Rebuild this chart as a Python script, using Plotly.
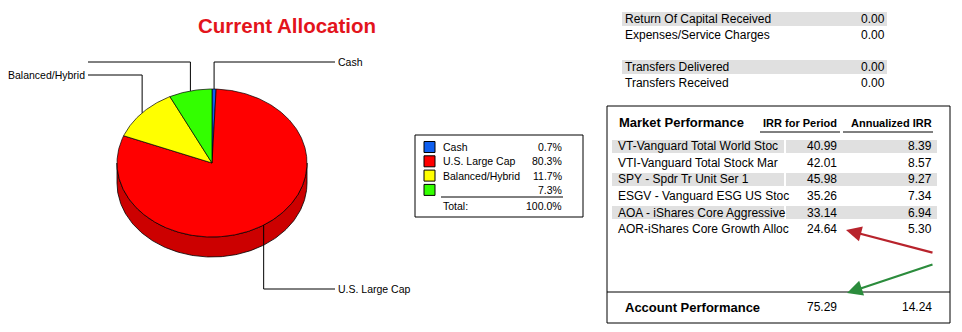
import numpy as np
import plotly.graph_objects as go

# ---------------- data ----------------
alloc_labels = ["Cash", "U.S. Large Cap", "Balanced/Hybrid", ""]
alloc_pct = [0.7, 80.3, 11.7, 7.3]
alloc_colors = ["#0F5FEF", "#FF0000", "#FFFF00", "#33FF00"]
alloc_side_colors = ["#0C4CBF", "#CC0000", "#CCCC00", "#29CC00"]

flow_labels = ["Return Of Capital Received", "Expenses/Service Charges", "",
               "Transfers Delivered", "Transfers Received"]
flow_values = [0.00, 0.00, None, 0.00, 0.00]
flow_shaded = [True, False, False, True, False]

perf_names = ["VT-Vanguard Total World Stoc", "VTI-Vanguard Total Stock Mar",
              "SPY - Spdr Tr Unit Ser 1", "ESGV - Vanguard ESG US Stoc",
              "AOA - iShares Core Aggressive", "AOR-iShares Core Growth Alloc"]
perf_irr = [40.99, 42.01, 45.98, 35.26, 33.14, 24.64]
perf_ann = [8.39, 8.57, 9.27, 7.34, 6.94, 5.30]
acct_label = "Account Performance"
acct_irr = 75.29
acct_ann = 14.24

# ---------------- layout constants ----------------
W, H = 962, 332
FONT = "Liberation Sans, Arial, sans-serif"
CX, CY, RX, RY, DEPTH = 212, 163, 95, 74, 20
LABEL_Y = [62, 289, 75, 62]          # leader label levels (px)
LEFT_END, RIGHT_END = 88, 335


def px(x):
    return x / W


def py(y):
    return 1 - y / H


fig = go.Figure()

# ---------------- 3D pie (ellipse via axis scaling) ----------------
cum = np.concatenate([[0], np.cumsum(alloc_pct)]) / 100.0 * 360.0
d = DEPTH / RY

# side walls (visible lower half: 90..270 deg clockwise from top)
for i in range(len(alloc_pct)):
    s0, s1 = max(cum[i], 90), min(cum[i + 1], 270)
    if s1 > s0:
        t = np.radians(np.linspace(s0, s1, int(s1 - s0) + 2))
        xs = np.concatenate([np.sin(t), np.sin(t)[::-1], [np.sin(t[0])]])
        ys = np.concatenate([np.cos(t), np.cos(t)[::-1] - d, [np.cos(t[0])]])
        fig.add_trace(go.Scatter(x=xs, y=ys, mode="lines", fill="toself",
                                 fillcolor=alloc_side_colors[i],
                                 line=dict(color="black", width=0.8),
                                 hoverinfo="skip", showlegend=False))

# top face wedges
for i in range(len(alloc_pct)):
    a0, a1 = cum[i], cum[i + 1]
    t = np.radians(np.linspace(a0, a1, int((a1 - a0) * 2) + 2))
    xs = np.concatenate([[0], np.sin(t), [0]])
    ys = np.concatenate([[0], np.cos(t), [0]])
    fig.add_trace(go.Scatter(x=xs, y=ys, mode="lines", fill="toself",
                             fillcolor=alloc_colors[i],
                             line=dict(color="black", width=0.7),
                             hoverinfo="skip", showlegend=False))

# leader lines and labels
annotations = []
for i in range(len(alloc_pct)):
    mid = np.radians((cum[i] + cum[i + 1]) / 2)
    mx, my = np.sin(mid), np.cos(mid)
    ly = (CY - LABEL_Y[i]) / RY
    right = mx > 0
    ex = ((RIGHT_END if right else LEFT_END) - CX) / RX
    fig.add_trace(go.Scatter(x=[mx, mx, ex], y=[my, ly, ly], mode="lines",
                             line=dict(color="black", width=1),
                             hoverinfo="skip", showlegend=False))
    if alloc_labels[i]:
        annotations.append(dict(x=ex, y=ly, xref="x", yref="y",
                                text=alloc_labels[i], showarrow=False,
                                xanchor="left" if right else "right",
                                yanchor="middle", xshift=1 if right else -1,
                                font=dict(family=FONT, size=10.5, color="black")))

# title
annotations.append(dict(x=px(287), y=py(25), xref="paper", yref="paper",
                        text="<b>Current Allocation</b>", showarrow=False,
                        xanchor="center", yanchor="middle",
                        font=dict(family=FONT, size=20.5, color="#E3141C")))

shapes = []

# ---------------- legend box ----------------
shapes.append(dict(type="rect", xref="paper", yref="paper",
                   x0=px(415), x1=px(583), y0=py(135), y1=py(217),
                   line=dict(color="black", width=1), fillcolor="white"))
LEG_Y0, LEG_DY = 147, 14.3
for i, lab in enumerate(alloc_labels):
    yy = LEG_Y0 + i * LEG_DY
    shapes.append(dict(type="rect", xref="paper", yref="paper",
                       x0=px(424), x1=px(435), y0=py(yy - 5.5), y1=py(yy + 5.5),
                       line=dict(color="black", width=1), fillcolor=alloc_colors[i]))
    annotations.append(dict(x=px(441), y=py(yy), xref="paper", yref="paper",
                            text=lab, showarrow=False, xanchor="left", yanchor="middle",
                            font=dict(family=FONT, size=10.5, color="black")))
    annotations.append(dict(x=px(564), y=py(yy), xref="paper", yref="paper",
                            text=f"{alloc_pct[i]:.1f}%", showarrow=False,
                            xanchor="right", yanchor="middle",
                            font=dict(family=FONT, size=10.5, color="black")))
shapes.append(dict(type="line", xref="paper", yref="paper",
                   x0=px(441), x1=px(563), y0=py(197), y1=py(197),
                   line=dict(color="black", width=1)))
annotations.append(dict(x=px(441), y=py(206), xref="paper", yref="paper",
                        text="Total:", showarrow=False, xanchor="left", yanchor="middle",
                        font=dict(family=FONT, size=10.5, color="black")))
annotations.append(dict(x=px(564), y=py(206), xref="paper", yref="paper",
                        text=f"{sum(alloc_pct):.1f}%", showarrow=False,
                        xanchor="right", yanchor="middle",
                        font=dict(family=FONT, size=10.5, color="black")))

# ---------------- top-right flows ----------------
GREY = "#E0E0E0"
FL_Y0, FL_DY = 19, 16
for i, lab in enumerate(flow_labels):
    yy = FL_Y0 + i * FL_DY
    if flow_shaded[i]:
        shapes.append(dict(type="rect", xref="paper", yref="paper",
                           x0=px(622), x1=px(887), y0=py(yy - 7), y1=py(yy + 7),
                           line=dict(width=0), fillcolor=GREY, layer="below"))
    if lab:
        annotations.append(dict(x=px(623), y=py(yy), xref="paper", yref="paper",
                                text=lab, showarrow=False, xanchor="left", yanchor="middle",
                                font=dict(family=FONT, size=12, color="black")))
    if flow_values[i] is not None:
        annotations.append(dict(x=px(887), y=py(yy), xref="paper", yref="paper",
                                text=f"{flow_values[i]:.2f}", showarrow=False,
                                xanchor="right", yanchor="middle",
                                font=dict(family=FONT, size=12, color="black")))

# ---------------- market performance box ----------------
shapes.append(dict(type="rect", xref="paper", yref="paper",
                   x0=px(607), x1=px(950), y0=py(106), y1=py(323),
                   line=dict(color="black", width=1)))
shapes.append(dict(type="line", xref="paper", yref="paper",
                   x0=px(607), x1=px(950), y0=py(292), y1=py(292),
                   line=dict(color="black", width=1)))
annotations.append(dict(x=px(617), y=py(123), xref="paper", yref="paper",
                        text="<b>Market Performance</b>", showarrow=False,
                        xanchor="left", yanchor="middle",
                        font=dict(family=FONT, size=13, color="black")))
annotations.append(dict(x=px(800), y=py(123), xref="paper", yref="paper",
                        text="<b>IRR for Period</b>", showarrow=False,
                        xanchor="center", yanchor="middle",
                        font=dict(family=FONT, size=11, color="black")))
annotations.append(dict(x=px(891), y=py(123), xref="paper", yref="paper",
                        text="<b>Annualized IRR</b>", showarrow=False,
                        xanchor="center", yanchor="middle",
                        font=dict(family=FONT, size=11, color="black")))
shapes.append(dict(type="line", xref="paper", yref="paper",
                   x0=px(760), x1=px(840), y0=py(132), y1=py(132),
                   line=dict(color="black", width=1)))
shapes.append(dict(type="line", xref="paper", yref="paper",
                   x0=px(843), x1=px(933), y0=py(132), y1=py(132),
                   line=dict(color="black", width=1)))

PR_Y0, PR_DY = 146.5, 16.5
for i, name in enumerate(perf_names):
    yy = PR_Y0 + i * PR_DY
    if i % 2 == 0:
        shapes.append(dict(type="rect", xref="paper", yref="paper",
                           x0=px(612), x1=px(784), y0=py(yy - 6.5), y1=py(yy + 6.5),
                           line=dict(width=0), fillcolor=GREY, layer="below"))
        shapes.append(dict(type="rect", xref="paper", yref="paper",
                           x0=px(786), x1=px(937), y0=py(yy - 6.5), y1=py(yy + 6.5),
                           line=dict(width=0), fillcolor=GREY, layer="below"))
    annotations.append(dict(x=px(616), y=py(yy), xref="paper", yref="paper",
                            text=name, showarrow=False, xanchor="left", yanchor="middle",
                            font=dict(family=FONT, size=12, color="black")))
    annotations.append(dict(x=px(839), y=py(yy), xref="paper", yref="paper",
                            text=f"{perf_irr[i]:.2f}", showarrow=False,
                            xanchor="right", yanchor="middle",
                            font=dict(family=FONT, size=12, color="black")))
    annotations.append(dict(x=px(934), y=py(yy), xref="paper", yref="paper",
                            text=f"{perf_ann[i]:.2f}", showarrow=False,
                            xanchor="right", yanchor="middle",
                            font=dict(family=FONT, size=12, color="black")))

annotations.append(dict(x=px(623), y=py(307), xref="paper", yref="paper",
                        text=f"<b>{acct_label}</b>", showarrow=False,
                        xanchor="left", yanchor="middle",
                        font=dict(family=FONT, size=13, color="black")))
annotations.append(dict(x=px(839), y=py(307), xref="paper", yref="paper",
                        text=f"{acct_irr:.2f}", showarrow=False,
                        xanchor="right", yanchor="middle",
                        font=dict(family=FONT, size=12, color="black")))
annotations.append(dict(x=px(934), y=py(307), xref="paper", yref="paper",
                        text=f"{acct_ann:.2f}", showarrow=False,
                        xanchor="right", yanchor="middle",
                        font=dict(family=FONT, size=12, color="black")))

# arrows
annotations.append(dict(x=px(846), y=py(230), xref="paper", yref="paper",
                        ax=88, ay=23, text="", showarrow=True,
                        arrowhead=2, arrowsize=1.4, arrowwidth=2.2,
                        arrowcolor="#B8232C", standoff=0))
annotations.append(dict(x=px(847), y=py(293), xref="paper", yref="paper",
                        ax=87, ay=-29, text="", showarrow=True,
                        arrowhead=2, arrowsize=1.4, arrowwidth=2.2,
                        arrowcolor="#2B8C3C", standoff=0))

fig.update_layout(
    width=W, height=H,
    margin=dict(l=0, r=0, t=0, b=0),
    paper_bgcolor="white", plot_bgcolor="white",
    xaxis=dict(range=[-CX / RX, (W - CX) / RX], visible=False, fixedrange=True),
    yaxis=dict(range=[-(H - CY) / RY, CY / RY], visible=False, fixedrange=True),
    shapes=shapes,
    annotations=annotations,
    showlegend=False,
    hovermode=False,
)

fig.write_html("out.html")
